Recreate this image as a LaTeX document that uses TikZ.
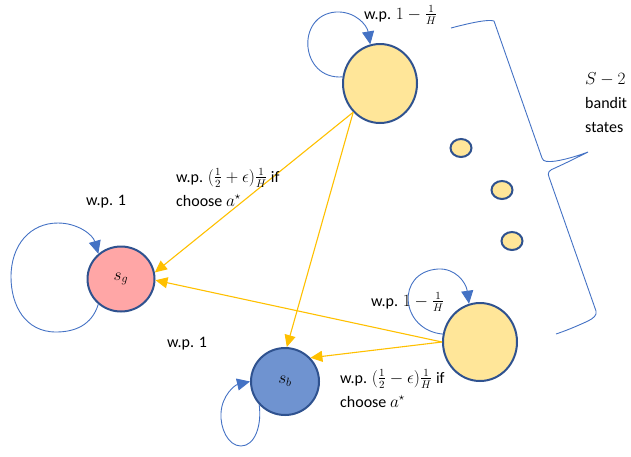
\documentclass[tikz,border=0pt]{standalone}
\usepackage{amsmath}
\usepackage{fontspec}
\setmainfont{Carlito}
\usetikzlibrary{arrows.meta,shapes.geometric}
\definecolor{yelfill}{HTML}{FFE699}
\definecolor{bord}{HTML}{2F528F}
\definecolor{pinkfill}{HTML}{FFA6A6}
\definecolor{bluefill}{HTML}{6F93D0}
\definecolor{loopc}{HTML}{4472C4}
\definecolor{arrc}{HTML}{FFC000}
\newcommand{\tkfr}[2]{\genfrac{}{}{1.6pt}{1}{#1}{#2}}
\begin{document}
\begin{tikzpicture}[x=1pt,y=-1pt,
  statebox/.style={ellipse,draw=bord,line width=2pt,inner sep=0pt},
  loopline/.style={draw=loopc,line width=0.9pt,-{Triangle[length=13pt,width=12pt]}},
  yarrow/.style={draw=arrc,line width=1.1pt,-{Triangle[length=12pt,width=11pt]}},
  bracec/.style={draw=loopc,line width=0.9pt},
  lbl/.style={anchor=base west,inner sep=0pt,font=\fontsize{16}{20}\selectfont}
]
\useasboundingbox (0,0) rectangle (631,456);

% states
\node[statebox,fill=yelfill,minimum width=74pt,minimum height=79pt] (top) at (380,83.5) {};
\node[statebox,fill=yelfill,minimum width=74pt,minimum height=78pt] (br) at (480,342) {};
\node[statebox,fill=pinkfill,minimum width=67pt,minimum height=65pt,font=\fontsize{17}{20}\selectfont] (sg) at (121,279) {$s_g$};
\node[statebox,fill=bluefill,minimum width=68pt,minimum height=67pt,font=\fontsize{17}{20}\selectfont] (sb) at (285,381.5) {$s_b$};
\node[statebox,fill=yelfill,minimum width=21pt,minimum height=18pt] (sma) at (461,148) {};
\node[statebox,fill=yelfill,minimum width=21pt,minimum height=18pt] (smb) at (502,190) {};
\node[statebox,fill=yelfill,minimum width=21pt,minimum height=18pt] (smc) at (512,241) {};

% self loops
\draw[loopline] (top.170) .. controls (300,80) and (295,15) .. (336,12)
   .. controls (355,11) and (367,25) .. (top.104);
\draw[loopline] (br.168) .. controls (400,330) and (395,272) .. (438,269)
   .. controls (455,268) and (466,282) .. (br.106);
\draw[loopline] (sg.228) .. controls (92,325) and (75,332) .. (56,332)
   .. controls (25,332) and (11,305) .. (11,277)
   .. controls (11,245) and (30,223) .. (58,223)
   .. controls (78,223) and (93,235) .. (sg.132);
\draw[loopline] (sb.222) .. controls (262,425) and (255,446) .. (241,446)
   .. controls (228,446) and (220,428) .. (221,413)
   .. controls (222,395) and (235,385) .. (sb.180);

% transitions
\draw[yarrow] (top.227) -- (sg.11);
\draw[yarrow] (top.227) -- (sb.87);
\draw[yarrow] (br.180) -- (sg.358);
\draw[yarrow] (br.180) -- (sb.43);

% brace
\draw[bracec] (451,28) .. controls (470,23) and (488,19) .. (494,21)
  -- (542,158) .. controls (543,162) and (548,162) .. (556,161)
  .. controls (568,159) and (580,155) .. (588,152)
  .. controls (578,157) and (566,163) .. (555,168)
  .. controls (549,170) and (547,173) .. (549,177)
  -- (596,311) .. controls (597,315) and (594,318) .. (588,321)
  .. controls (575,327) and (565,331) .. (556,334);

% labels
\node[lbl] (l1) at (364,19) {w.p. $1-\tkfr{1}{H}$};
\node[lbl] (l2) at (371,306) {w.p. $1-\tkfr{1}{H}$};
\node[lbl] (l3) at (86,205) {w.p. 1};
\node[lbl] (l4) at (167,347) {w.p. 1};
\node[lbl] (l5a) at (176,182) {w.p. $(\tkfr{1}{2}+\epsilon)\tkfr{1}{H}$ if};
\node[lbl] (l5b) at (176,206) {choose $a^\star$};
\node[lbl] (l6a) at (340,383) {w.p. $(\tkfr{1}{2}-\epsilon)\tkfr{1}{H}$ if};
\node[lbl] (l6b) at (340,407) {choose $a^\star$};
\node[lbl,font=\fontsize{17}{20}\selectfont] (s1) at (585,84) {$S-2$};
\node[lbl] (s2) at (585,108) {bandit};
\node[lbl] (s3) at (585,132) {states};
\end{tikzpicture}
\end{document}
